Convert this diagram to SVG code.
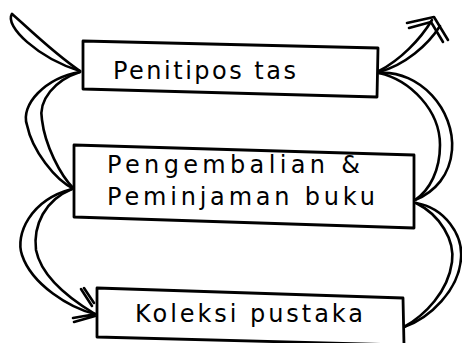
<svg xmlns="http://www.w3.org/2000/svg" width="462" height="343" viewBox="0 0 462 343">
<style>
.box{fill:#fff;stroke:#000;stroke-width:2.8;stroke-linejoin:round}
.lbl{font-family:"DejaVu Sans","Liberation Sans",sans-serif;font-size:24px;fill:#000}
.c{fill:none;stroke:#000;stroke-width:2.6;stroke-linecap:round;stroke-linejoin:round}
</style>
<rect width="462" height="343" fill="#fff"/>
<g id="connectors">
  <path class="c" d="M12 14 C 4 26, 38 58, 80 71"/>
  <path class="c" d="M12 14 C 24 24, 52 52, 80 71"/>
  <path class="c" d="M80 72 C 45 78, 20 105, 27 125 C 32 150, 55 180, 74 189"/>
  <path class="c" d="M80 72 C 55 80, 38 100, 42 120 C 45 145, 60 175, 74 189"/>
  <path class="c" d="M72 189 C 30 200, 15 235, 22 255 C 32 285, 70 308, 95 314"/>
  <path class="c" d="M72 189 C 45 200, 33 225, 36 250 C 42 280, 75 302, 95 314"/>
  <path class="c" d="M81 289 L 92 306 M84 288 L 94 303"/>
  <path class="c" d="M73 318 L 96 314 M74 322 L 95 316"/>
  <path class="c" d="M379 71 C 400 60, 420 40, 432 20"/>
  <path class="c" d="M379 72 C 405 65, 428 45, 440 26"/>
  <path class="c" d="M407 23 L 434 17 L 448 40 M409 28 L 431 22 L 443 42"/>
  <path class="c" d="M379 73 C 420 70, 455 110, 452 150 C 450 175, 435 192, 415 200"/>
  <path class="c" d="M379 73 C 410 80, 440 110, 440 145 C 440 170, 430 190, 415 200"/>
  <path class="c" d="M416 203 C 445 208, 463 235, 461 258 C 459 290, 430 318, 404 327"/>
  <path class="c" d="M416 203 C 440 215, 455 240, 452 262 C 448 292, 425 315, 404 327"/>
</g>
<g id="node-penitipan">
  <polygon class="box" points="83,41 378,48 377,97 83,89"/>
  <text class="lbl" x="113" y="79" textLength="183" lengthAdjust="spacing">Penitipos tas</text>
</g>
<g id="node-pengembalian">
  <polygon class="box" points="74,145 414,155 414,228 74,217"/>
  <text class="lbl" x="107" y="173" textLength="253" lengthAdjust="spacing">Pengembalian &amp;</text>
  <text class="lbl" x="107" y="205" textLength="268" lengthAdjust="spacing">Peminjaman buku</text>
</g>
<g id="node-koleksi">
  <polygon class="box" points="97,288 403,298 404,345 97,337"/>
  <text class="lbl" x="135" y="322" textLength="228" lengthAdjust="spacing">Koleksi pustaka</text>
</g>
</svg>
